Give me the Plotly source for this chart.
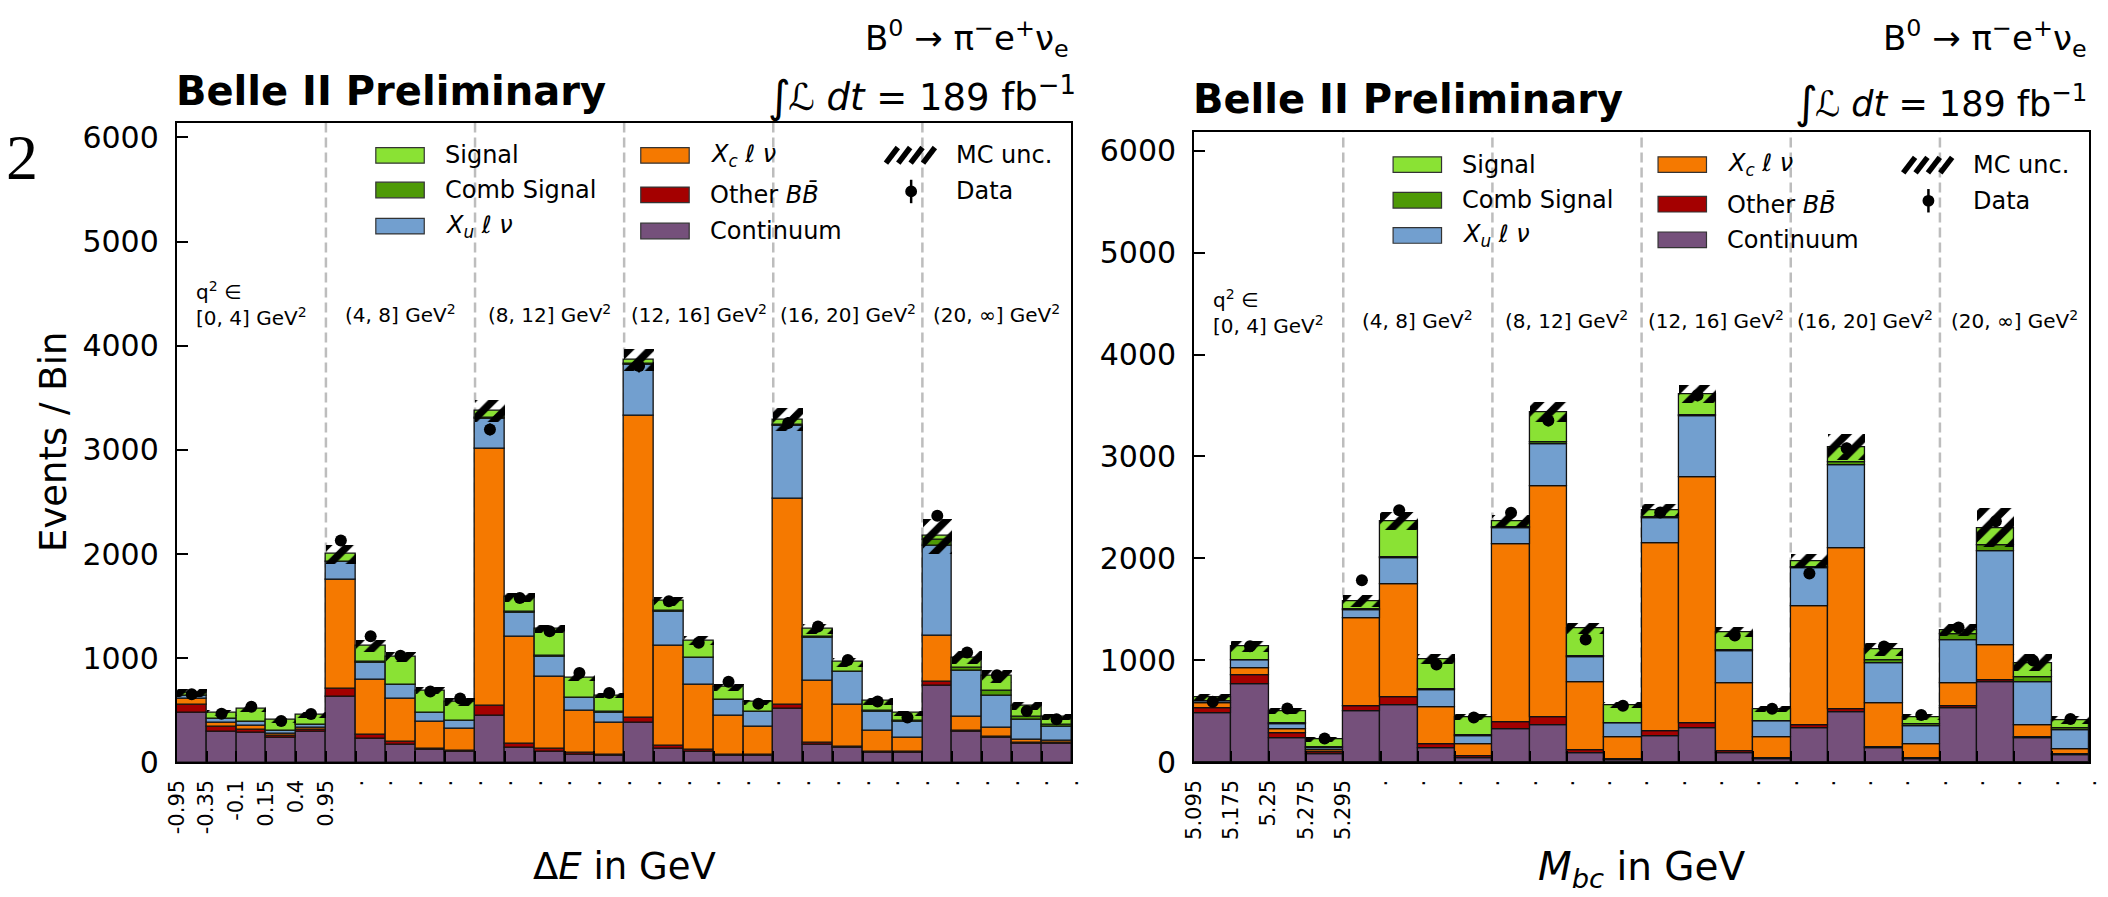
import plotly.graph_objects as go

W, H = 2108, 897

# ---------------- ΔE projection: 6 q² bins x 5 ΔE bins ----------------
de_tick_labels = ["-0.95", "-0.35", "-0.1", "0.15", "0.4", "0.95"]
de_continuum = [478, 293, 284, 234, 291, 634, 228, 172, 119, 100, 447, 144, 103, 78, 62,
                378, 134, 103, 66, 66, 516, 172, 141, 94, 94, 734, 291, 234, 181, 181]
de_other_bb = [80, 45, 30, 20, 25, 72, 38, 25, 9, 12, 94, 31, 25, 16, 10,
               53, 22, 16, 10, 8, 40, 19, 6, 9, 4, 38, 15, 10, 10, 6]
de_xc = [55, 42, 38, 22, 18, 1044, 531, 412, 263, 210, 2468, 1028, 694, 406, 312,
         2900, 963, 625, 371, 270, 1975, 590, 403, 203, 140, 440, 132, 84, 31, 19]
de_xu = [25, 38, 38, 30, 25, 172, 162, 135, 81, 75, 291, 238, 194, 119, 94,
         485, 328, 256, 150, 140, 703, 416, 319, 182, 156, 872, 446, 313, 187, 132]
de_comb = [5, 3, 3, 2, 2, 8, 5, 5, 5, 5, 8, 7, 6, 5, 4,
           8, 5, 5, 5, 4, 10, 7, 6, 5, 5, 50, 25, 50, 32, 21]
de_signal = [27, 57, 122, 100, 95, 70, 155, 267, 214, 180, 70, 140, 262, 192, 162,
             45, 98, 167, 120, 93, 47, 80, 88, 95, 73, 38, 100, 137, 106, 82]
de_mc_unc = [35, 30, 30, 25, 30, 90, 55, 45, 35, 35, 105, 45, 40, 30, 25,
             105, 45, 40, 30, 25, 110, 50, 45, 30, 25, 170, 65, 60, 40, 30]
de_data = [655, 468, 534, 398, 466, 2130, 1212, 1025, 681, 615, 3197, 1578, 1259, 859, 666,
           3806, 1547, 1150, 775, 563, 3259, 1306, 984, 585, 431, 2369, 1056, 838, 494, 416]
de_data_err = [26, 22, 23, 20, 22, 46, 35, 32, 26, 25, 57, 40, 35, 29, 26,
               62, 39, 34, 28, 24, 57, 36, 31, 24, 21, 49, 32, 29, 22, 20]

# ---------------- Mbc projection: 6 q² bins x 4 Mbc bins ----------------
mbc_tick_labels = ["5.095", "5.175", "5.25", "5.275", "5.295"]
mbc_continuum = [486, 768, 239, 78, 499, 564, 139, 43, 325, 369, 95, 22,
                 260, 338, 95, 35, 338, 490, 143, 35, 529, 790, 239, 74]
mbc_other_bb = [43, 87, 43, 22, 52, 74, 35, 13, 74, 73, 26, 13,
                44, 44, 13, 5, 31, 31, 4, 3, 26, 13, 5, 4]
mbc_xc = [48, 69, 43, 21, 859, 1110, 368, 118, 1740, 2269, 669, 217,
          1843, 2416, 664, 212, 1162, 1583, 430, 144, 226, 347, 116, 52]
mbc_xu = [22, 74, 52, 22, 87, 256, 165, 86, 160, 412, 242, 130,
          252, 599, 321, 151, 369, 811, 399, 174, 421, 919, 430, 182]
mbc_comb = [3, 5, 3, 2, 6, 10, 10, 4, 5, 13, 10, 5,
            5, 10, 8, 5, 17, 26, 22, 21, 56, 65, 43, 26]
mbc_signal = [36, 134, 119, 81, 80, 350, 294, 178, 60, 300, 272, 177,
              69, 202, 179, 113, 57, 152, 108, 65, 35, 165, 143, 74]
mbc_mc_unc = [35, 55, 30, 25, 60, 90, 50, 30, 60, 100, 55, 30,
              60, 90, 50, 30, 70, 130, 60, 30, 60, 190, 85, 40]
mbc_data = [594, 1140, 529, 234, 1787, 2473, 960, 440, 2447, 3353, 1206, 555,
            2450, 3600, 1245, 525, 1852, 3080, 1137, 464, 1323, 2364, 998, 425]
mbc_data_err = [24, 34, 23, 15, 42, 50, 31, 21, 49, 58, 35, 24,
                49, 60, 35, 23, 43, 55, 34, 22, 36, 49, 32, 21]

q2_labels = ["q<sup>2</sup> ∈<br>[0, 4] GeV<sup>2</sup>", "(4, 8] GeV<sup>2</sup>",
             "(8, 12] GeV<sup>2</sup>", "(12, 16] GeV<sup>2</sup>",
             "(16, 20] GeV<sup>2</sup>", "(20, ∞] GeV<sup>2</sup>"]

# stacking order bottom -> top
stack_names = ["Continuum", "Other <i>BB̄</i>", "<i>X<sub>c</sub></i> <i>ℓ ν</i>",
               "<i>X<sub>u</sub></i> <i>ℓ ν</i>", "Comb Signal", "Signal"]
stack_colors = ["#75507b", "#a40000", "#f57900", "#729fcf", "#4e9a06", "#8ae234"]

FONT = "DejaVu Sans"


def px_x(x):
    return x / W


def px_y(y):
    return 1 - y / H


fig = go.Figure()
shapes = []
annotations = []


def add_panel(suffix, comps, mc_unc, data, data_err, edge_labels, per_group, geom, xtitle):
    xa = "x" + suffix
    ya = "y" + suffix
    n = len(data)
    xs = [i + 0.5 for i in range(n)]
    base = [0] * n
    for vals, color in zip(comps, stack_colors):
        fig.add_trace(go.Bar(
            x=xs, y=vals, base=list(base), width=1, xaxis=xa, yaxis=ya,
            marker=dict(color=color, line=dict(color="#111111", width=1.3)),
            showlegend=False, hoverinfo="skip"))
        base = [b + v for b, v in zip(base, vals)]
    total = base
    # hatched MC uncertainty band around the stack total
    fig.add_trace(go.Bar(
        x=xs, y=[2 * u for u in mc_unc], base=[t - u for t, u in zip(total, mc_unc)],
        width=1, xaxis=xa, yaxis=ya,
        marker=dict(color="rgba(0,0,0,0)", line=dict(width=0),
                    pattern=dict(shape="/", fgcolor="#000000", fgopacity=1,
                                 bgcolor="rgba(0,0,0,0)", size=15, solidity=0.5,
                                 fillmode="overlay")),
        showlegend=False, hoverinfo="skip"))
    fig.add_trace(go.Scatter(
        x=xs, y=data, mode="markers", xaxis=xa, yaxis=ya,
        marker=dict(color="black", size=12),
        error_y=dict(type="data", array=data_err, color="black", thickness=2, width=0),
        showlegend=False, hoverinfo="skip"))

    ticktext = edge_labels + ["."] * (n + 1 - len(edge_labels))
    axis_common = dict(showline=True, mirror=True, linecolor="black", linewidth=2,
                       showgrid=False, zeroline=False, ticks="inside", ticklen=11,
                       tickwidth=2, tickcolor="black")
    fig.layout["xaxis" + suffix] = dict(
        domain=[px_x(geom["x0"]), px_x(geom["x1"])], range=[0, n], anchor=ya,
        tickvals=list(range(n + 1)), ticktext=ticktext, tickangle=-90,
        tickfont=dict(family=FONT, size=21, color="black"), ticklabelstandoff=7,
        **axis_common)
    fig.layout["yaxis" + suffix] = dict(
        domain=[px_y(geom["bottom"]), px_y(geom["top"])], range=[0, geom["ymax"]],
        anchor=xa, tickvals=[0, 1000, 2000, 3000, 4000, 5000, 6000],
        tickfont=dict(family=FONT, size=30, color="black"), ticklabelstandoff=10,
        **axis_common)

    # q² bin separators and labels
    n_groups = n // per_group
    for g in range(1, n_groups):
        shapes.append(dict(type="line", xref=xa, yref=ya + " domain",
                           x0=g * per_group, x1=g * per_group, y0=0, y1=1,
                           line=dict(color="#bdbdbd", width=2.5, dash="10px,5px"),
                           layer="below"))
    for g, lab in enumerate(q2_labels):
        yc = geom["q2_first_y"] if g == 0 else geom["q2_y"]
        annotations.append(dict(x=g * per_group + per_group / 2, y=px_y(yc), xref=xa,
                                yref="paper", text=lab, showarrow=False, align="left",
                                xanchor="center", yanchor="middle",
                                font=dict(family=FONT, size=20, color="black")))

    # x axis title
    annotations.append(dict(x=px_x((geom["x0"] + geom["x1"]) / 2), y=px_y(geom["xtitle_y"]),
                            xref="paper", yref="paper", text=xtitle, showarrow=False,
                            xanchor="center", yanchor="middle",
                            font=dict(family=FONT, size=geom["xtitle_size"], color="black")))

    # header texts
    annotations.append(dict(x=px_x(geom["x0"] - 3), y=px_y(geom["belle_y"]), xref="paper",
                            yref="paper", text="<b>Belle II Preliminary</b>",
                            showarrow=False, xanchor="left", yanchor="middle",
                            font=dict(family=FONT, size=40, color="black")))
    annotations.append(dict(x=px_x(geom["x1"]), y=px_y(36), xref="paper", yref="paper",
                            text="B<sup>0</sup> → π<sup>−</sup>e<sup>+</sup>ν<sub>e</sub>",
                            showarrow=False, xanchor="right", yanchor="middle",
                            font=dict(family=FONT, size=34, color="black")))
    annotations.append(dict(x=px_x(geom["lum_x"]), y=px_y(geom["lum_y"]), xref="paper",
                            yref="paper",
                            text="<i>ℒ dt</i> = 189 fb<sup>−1</sup>",
                            showarrow=False, xanchor="left", yanchor="middle",
                            font=dict(family=FONT, size=geom["lum_size"], color="black")))
    annotations.append(dict(x=px_x(geom["lum_x"] - 20), y=px_y(geom["lum_y"] + 2),
                            xref="paper", yref="paper", text="∫", showarrow=False,
                            xanchor="left", yanchor="middle",
                            font=dict(family=FONT, size=44, color="black")))

    # legend (three columns)
    lg = geom["legend"]
    cols = [[(stack_names[5], stack_colors[5]), (stack_names[4], stack_colors[4]),
             (stack_names[3], stack_colors[3])],
            [(stack_names[2], stack_colors[2]), (stack_names[1], stack_colors[1]),
             (stack_names[0], stack_colors[0])]]
    for c, entries in enumerate(cols):
        px0 = lg["patch_x"][c]
        for r, (name, color) in enumerate(entries):
            yc = lg["rows"][c][r]
            shapes.append(dict(type="rect", xref="paper", yref="paper",
                               x0=px_x(px0), x1=px_x(px0 + 49),
                               y0=px_y(yc + 8), y1=px_y(yc - 8),
                               fillcolor=color, line=dict(color="#333333", width=1.2)))
            annotations.append(dict(x=px_x(px0 + 68), y=px_y(yc), xref="paper",
                                    yref="paper", text=name, showarrow=False,
                                    xanchor="left", yanchor="middle",
                                    font=dict(family=FONT, size=24, color="black")))
    hx = lg["patch_x"][2]
    hy = lg["rows"][2][0]
    for i in range(4):
        xa0 = hx - 1 + 12.5 * i
        shapes.append(dict(type="line", xref="paper", yref="paper",
                           x0=px_x(xa0), x1=px_x(xa0 + 12),
                           y0=px_y(hy + 8), y1=px_y(hy - 8),
                           line=dict(color="black", width=5.5)))
    annotations.append(dict(x=px_x(hx + 68), y=px_y(hy), xref="paper", yref="paper",
                            text="MC unc.", showarrow=False, xanchor="left",
                            yanchor="middle", font=dict(family=FONT, size=24, color="black")))
    dy = lg["rows"][2][1]
    mx = hx + 24.5
    shapes.append(dict(type="line", xref="paper", yref="paper", x0=px_x(mx), x1=px_x(mx),
                       y0=px_y(dy + 12), y1=px_y(dy - 12),
                       line=dict(color="black", width=2.5)))
    shapes.append(dict(type="circle", xref="paper", yref="paper",
                       x0=px_x(mx - 6), x1=px_x(mx + 6), y0=px_y(dy + 6), y1=px_y(dy - 6),
                       fillcolor="black", line=dict(color="black", width=0)))
    annotations.append(dict(x=px_x(hx + 68), y=px_y(dy), xref="paper", yref="paper",
                            text="Data", showarrow=False, xanchor="left",
                            yanchor="middle", font=dict(family=FONT, size=24, color="black")))


left_geom = dict(x0=166.7, x1=1071.7, top=122.7, bottom=777.7, ymax=6140,
                 q2_y=318, q2_first_y=308,
                 belle_y=90, lum_x=783, lum_y=94, lum_size=37,
                 xtitle_y=884, xtitle_size=37,
                 legend=dict(patch_x=[368, 636, 885],
                             rows=[[156, 191.5, 228.5], [156, 196.5, 233.5], [156, 193]]))
right_geom = dict(x0=1195.7, x1=2101, top=132.3, bottom=777.6, ymax=6180,
                  q2_y=325, q2_first_y=316,
                  belle_y=98, lum_x=1822, lum_y=100, lum_size=35,
                  xtitle_y=887, xtitle_size=39,
                  legend=dict(patch_x=[1397, 1665, 1914],
                              rows=[[165.5, 202, 238], [165.5, 206, 242.5], [166, 202.5]]))

add_panel("", [de_continuum, de_other_bb, de_xc, de_xu, de_comb, de_signal],
          de_mc_unc, de_data, de_data_err, de_tick_labels, 5, left_geom,
          "Δ<i>E</i> in GeV")
add_panel("2", [mbc_continuum, mbc_other_bb, mbc_xc, mbc_xu, mbc_comb, mbc_signal],
          mbc_mc_unc, mbc_data, mbc_data_err, mbc_tick_labels, 4, right_geom,
          "<i>M<sub>bc</sub></i> in GeV")

# y axis title of the ΔE panel
annotations.append(dict(x=px_x(42), y=px_y(450), xref="paper", yref="paper",
                        text="Events / Bin", textangle=-90, showarrow=False,
                        xanchor="center", yanchor="middle",
                        font=dict(family=FONT, size=37, color="black")))
# page number fragment at the left border
annotations.append(dict(x=px_x(28), y=px_y(158), xref="paper", yref="paper",
                        text="2", showarrow=False, xanchor="right", yanchor="middle",
                        font=dict(family="Liberation Serif", size=64, color="black")))

fig.update_layout(width=W, height=H, margin=dict(l=0, r=0, t=0, b=0),
                  paper_bgcolor="white", plot_bgcolor="white",
                  barmode="overlay", bargap=0, showlegend=False,
                  shapes=shapes, annotations=annotations)

fig.write_html("out.html")
